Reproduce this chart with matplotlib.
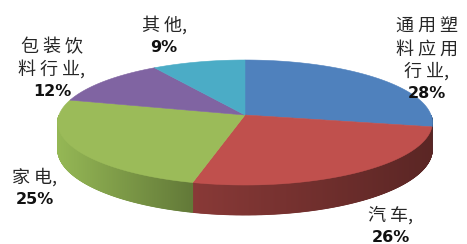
import numpy as np
import matplotlib
matplotlib.use("Agg")
import matplotlib.pyplot as plt

plt.rcParams['font.family'] = ['Noto Sans CJK SC', 'DejaVu Sans']

# ---- data ----
categories = ["通用塑料应用行业", "汽车", "家电", "包装饮料行业", "其他"]
values = [28, 26, 25, 12, 9]
name_lines = [["通用塑", "料应用", "行业,"], ["汽车,"], ["家电,"],
              ["包装饮", "料行业,"], ["其他,"]]
pct_labels = ["28%", "26%", "25%", "12%", "9%"]
top_colors = ["#4F81BD", "#C0504D", "#9BBB59", "#8064A2", "#4BACC6"]
side_colors = ["#3B618E", "#7A3331", "#85A44C", "#604B7A", "#388193"]

# ---- layout (pixel space, y down) ----
W, H = 467, 244
vx, vy = 245, 115          # projected pie centre
A, B = 186, 61.6           # radius scales
kp = 0.12                  # perspective strength
D = 26.4                   # thickness
start = 90.0

fig = plt.figure(figsize=(W / 100, H / 100), dpi=100)
ax = fig.add_axes([0, 0, 1, 1])
ax.set_xlim(0, W)
ax.set_ylim(H, 0)
ax.axis('off')

fr = np.array(values, dtype=float) / np.sum(values)
ang = start - 360.0 * np.concatenate([[0], np.cumsum(fr)])

def proj(t, down=0.0):
    r = np.radians(t)
    s = 1.0 + kp * np.sin(r)
    return vx + A * np.cos(r) / s, vy - B * np.sin(r) / s + down / s

# side walls (front half)
for i in range(len(values)):
    t0, t1 = ang[i], ang[i + 1]
    ts = np.linspace(t1, t0, 400)
    ts_m = np.mod(ts, 360)
    front = (ts_m > 180) & (ts_m < 360)
    if not front.any():
        continue
    tf = ts[front]
    xs_all = [proj(t)[0] for t in tf]
    xmin, xmax = min(xs_all), max(xs_all)
    base = np.array(matplotlib.colors.to_rgb(side_colors[i]))
    for k in range(len(tf) - 1):
        xa, ya = proj(tf[k])
        xb, yb = proj(tf[k + 1])
        _, ya2 = proj(tf[k], D)
        _, yb2 = proj(tf[k + 1], D)
        xm = 0.5 * (xa + xb)
        frac = (xm - xmin) / (xmax - xmin + 1e-9)
        c = np.clip(base * (1.12 - 0.38 * frac), 0, 1)
        ax.fill([xa, xb, xb, xa], [ya, yb, yb2, ya2],
                color=c, lw=0.6, ec=c, zorder=1)

# tops
for i in range(len(values)):
    ts = np.linspace(ang[i], ang[i + 1], 200)
    px = [vx] + [proj(t)[0] for t in ts]
    py = [vy] + [proj(t)[1] for t in ts]
    ax.fill(px, py, color=top_colors[i], lw=0.4, ec=top_colors[i], zorder=2)

# labels
def spaced(s):
    out = ""
    for j, ch in enumerate(s):
        out += ch
        if j + 1 < len(s) and s[j + 1] != ",":
            out += " "
    return out

label_pos = [(427, 27), (391, 215), (35, 177), (52, 47), (164, 25)]
step = 22.3
for (x, y), lines, pct in zip(label_pos, name_lines, pct_labels):
    for k, ln in enumerate(lines):
        ax.text(x, y + k * step, spaced(ln), ha='center', va='center',
                fontsize=13, color='#262626', fontweight='light', zorder=3)
    ax.text(x, y + len(lines) * step, pct, ha='center', va='center',
            fontsize=11.5, fontweight='bold', color='#111111',
            family='DejaVu Sans', zorder=3)

fig.savefig("out.png", dpi=100)
